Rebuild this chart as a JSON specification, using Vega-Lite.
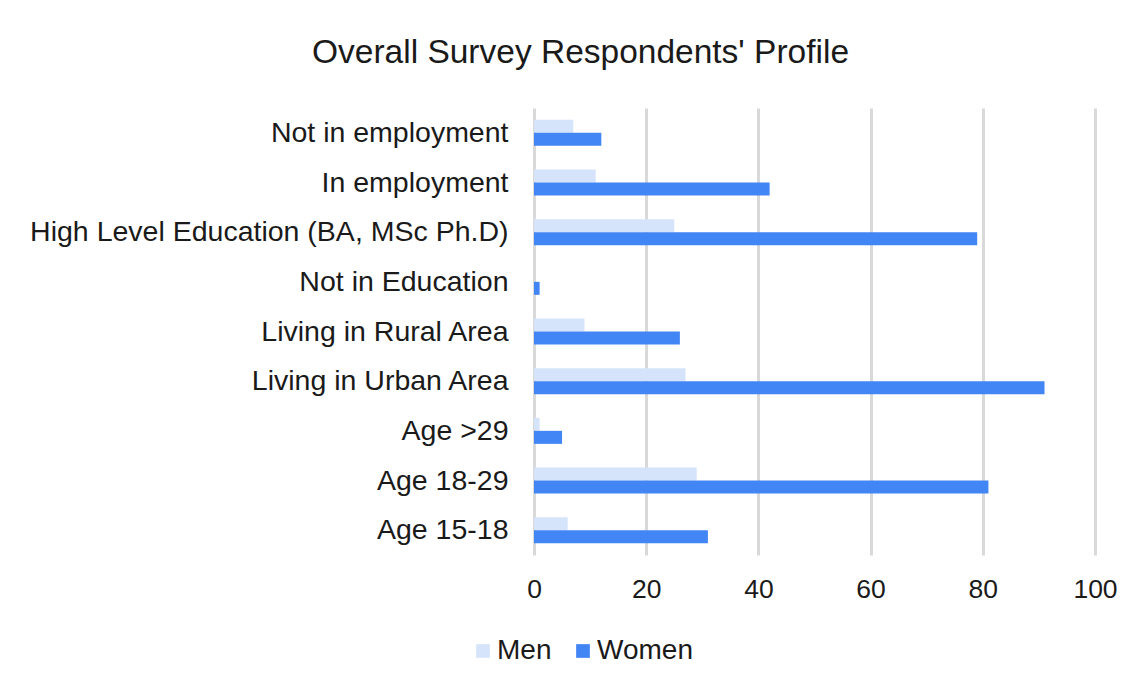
{
  "$schema": "https://vega.github.io/schema/vega-lite/v6.json",
  "autosize": "none",
  "width": 561,
  "height": 447,
  "padding": {"left": 534, "top": 108, "right": 47, "bottom": 136},
  "background": "white",
  "title": {
    "text": "Overall Survey Respondents' Profile",
    "anchor": "middle",
    "frame": "group",
    "dx": -234,
    "offset": 12,
    "baseline": "alphabetic",
    "font": "Liberation Sans",
    "fontSize": 33.5,
    "fontWeight": "normal",
    "color": "#1a1a1a"
  },
  "data": {
    "values": [
      {"category": "Not in employment", "gender": "Men", "value": 7},
      {"category": "Not in employment", "gender": "Women", "value": 12},
      {"category": "In employment\u2005", "gender": "Men", "value": 11},
      {"category": "In employment\u2005", "gender": "Women", "value": 42},
      {"category": "High Level Education (BA, MSc Ph.D)", "gender": "Men", "value": 25},
      {"category": "High Level Education (BA, MSc Ph.D)", "gender": "Women", "value": 79},
      {"category": "Not in Education", "gender": "Men", "value": 0},
      {"category": "Not in Education", "gender": "Women", "value": 1},
      {"category": "Living in Rural Area", "gender": "Men", "value": 9},
      {"category": "Living in Rural Area", "gender": "Women", "value": 26},
      {"category": "Living in Urban Area", "gender": "Men", "value": 27},
      {"category": "Living in Urban Area", "gender": "Women", "value": 91},
      {"category": "Age >29", "gender": "Men", "value": 1},
      {"category": "Age >29", "gender": "Women", "value": 5},
      {"category": "Age 18-29", "gender": "Men", "value": 29},
      {"category": "Age 18-29", "gender": "Women", "value": 81},
      {"category": "Age 15-18", "gender": "Men", "value": 6},
      {"category": "Age 15-18", "gender": "Women", "value": 31}
    ]
  },
  "mark": {"type": "bar"},
  "encoding": {
    "y": {
      "field": "category",
      "type": "nominal",
      "sort": [
        "Not in employment",
        "In employment\u2005",
        "High Level Education (BA, MSc Ph.D)",
        "Not in Education",
        "Living in Rural Area",
        "Living in Urban Area",
        "Age >29",
        "Age 18-29",
        "Age 15-18"
      ],
      "scale": {"paddingInner": 0.476, "paddingOuter": 0.238},
      "axis": {
        "title": null,
        "domain": false,
        "ticks": false,
        "grid": false,
        "labelPadding": 26,
        "labelFont": "Liberation Sans",
        "labelFontSize": 28.5,
        "labelColor": "#1a1a1a",
        "labelLimit": 600
      }
    },
    "yOffset": {
      "field": "gender",
      "type": "nominal",
      "sort": ["Men", "Women"],
      "scale": {"paddingInner": 0, "paddingOuter": 0}
    },
    "x": {
      "field": "value",
      "type": "quantitative",
      "scale": {"domain": [0, 100]},
      "axis": {
        "title": null,
        "values": [0, 20, 40, 60, 80, 100],
        "domain": false,
        "ticks": false,
        "grid": true,
        "gridColor": "#d9d9d9",
        "gridWidth": 3,
        "labelFlush": false,
        "labelPadding": 21,
        "labelFont": "Liberation Sans",
        "labelFontSize": 26.5,
        "labelColor": "#1a1a1a"
      }
    },
    "color": {
      "field": "gender",
      "type": "nominal",
      "scale": {"domain": ["Men", "Women"], "range": ["#d6e4fb", "#4285f4"]},
      "legend": {
        "title": null,
        "orient": "none",
        "direction": "horizontal",
        "legendX": -65,
        "legendY": 529,
        "symbolType": "square",
        "symbolSize": 188,
        "symbolStrokeWidth": 0,
        "labelFont": "Liberation Sans",
        "labelFontSize": 28,
        "labelColor": "#1a1a1a",
        "labelOffset": 0,
        "columnPadding": 17
      }
    }
  },
  "config": {
    "view": {"stroke": null}
  }
}
